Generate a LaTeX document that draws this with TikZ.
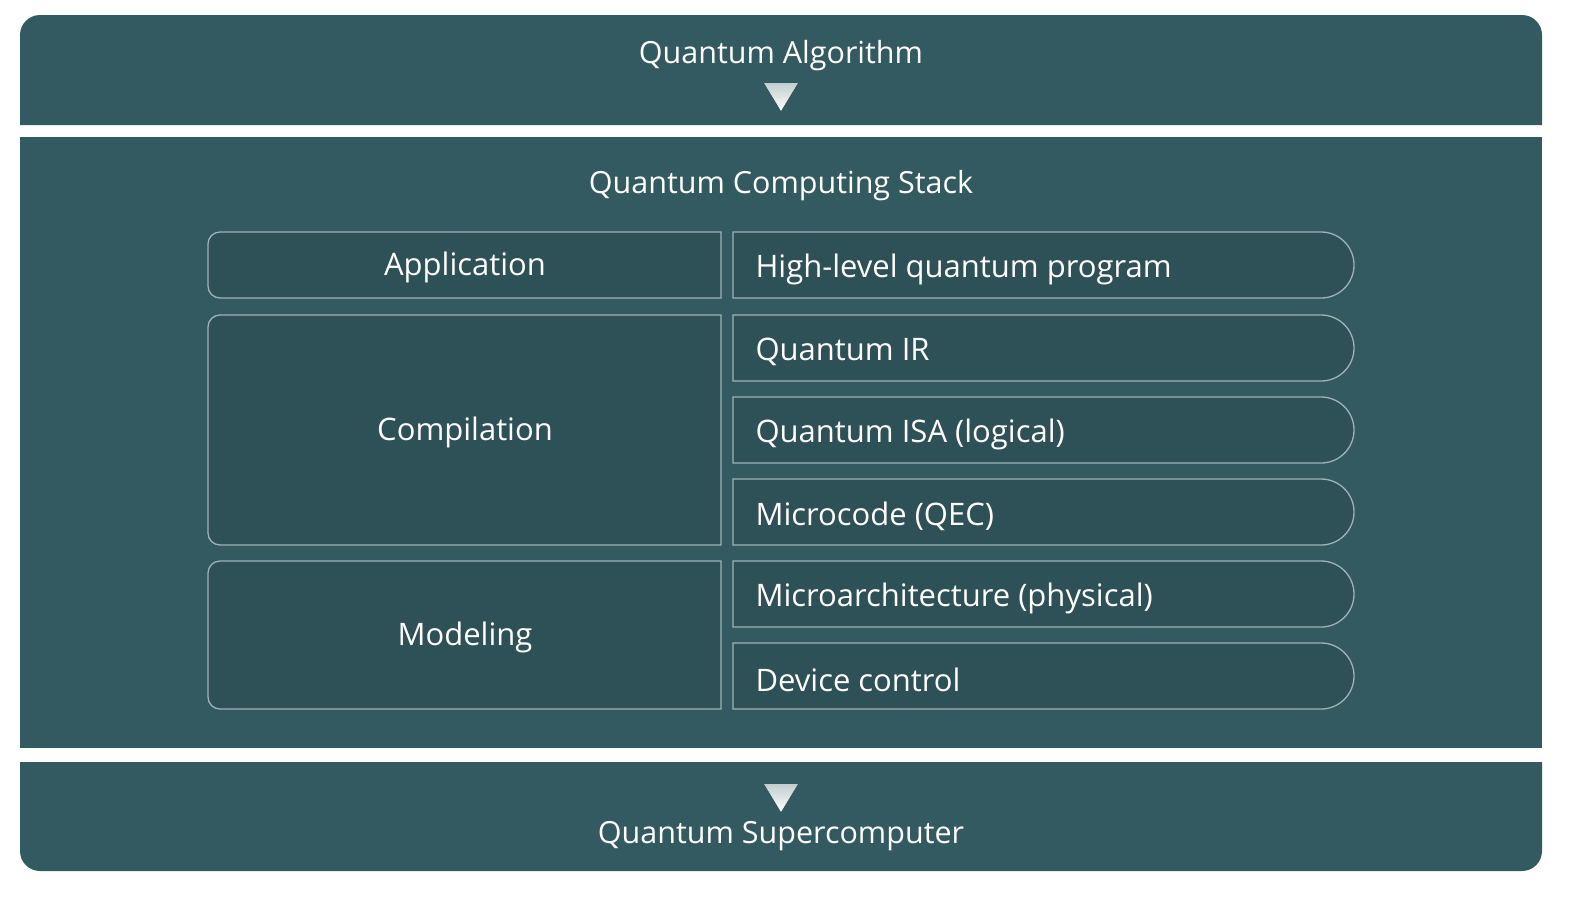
\documentclass[tikz,border=0pt]{standalone}
\usepackage{fontspec}
\setmainfont{Open Sans}
\definecolor{bandc}{HTML}{335A61}
\definecolor{boxc}{HTML}{2E5057}
\definecolor{linec}{HTML}{9DB3B7}
\begin{document}
\begin{tikzpicture}[x=1pt,y=-1pt,
  band/.style={fill=bandc},
  lbox/.style={fill=boxc,draw=linec,line width=1.3pt},
  lab/.style={text=white,font=\fontsize{31}{33}\selectfont},
  ttl/.style={text=white,font=\fontsize{30.5}{33}\selectfont},
  tri/.style={top color=white!70!bandc,bottom color=white,draw=none}]
\useasboundingbox (0,0) rectangle (1570,898);
\fill[white] (0,0) rectangle (1570,898);
% bands
\fill[band] (20,125) [rounded corners=20] -- (20,15) -- (1542,15) [sharp corners] -- (1542,125) -- cycle;
\fill[band] (20,137) rectangle (1542,748);
\fill[band] (20,762) -- (1542,762) [rounded corners=20] -- (1542,871) -- (20,871) [sharp corners] -- cycle;
\node[ttl] (alg) at (781,56) {Quantum Algorithm};
\node[ttl] (stk) at (781,186) {Quantum Computing Stack};
\node[ttl] (sup) at (781,836) {Quantum Supercomputer};
\fill[tri] (764,83) -- (798,83) -- (781,111) -- cycle;
\fill[tri] (764,784) -- (798,784) -- (781,812) -- cycle;
% left boxes
\foreach \t/\b/\txt/\n in {232/298/Application/app,315/545/Compilation/comp,561/709/Modeling/mod}{
  \draw[lbox] (721,\t) [rounded corners=12] -- (208,\t) -- (208,\b) [sharp corners] -- (721,\b) -- cycle;
  \node[lab] (\n) at (465,{(\t+\b)/2+2}) {\txt};
}
% right boxes
\foreach \t/\txt/\n in {232/High-level quantum program/r1,315/Quantum IR/r2,397/Quantum ISA (logical)/r3,479/Microcode (QEC)/r4,561/Microarchitecture (physical)/r5,643/Device control/r6}{
  \draw[lbox] (733,\t) [rounded corners=33] -- (1354,\t) -- (1354,\t+66) [sharp corners] -- (733,\t+66) -- cycle;
  \node[lab,anchor=west] (\n) at (752,\t+37) {\txt};
}
\end{tikzpicture}
\end{document}
